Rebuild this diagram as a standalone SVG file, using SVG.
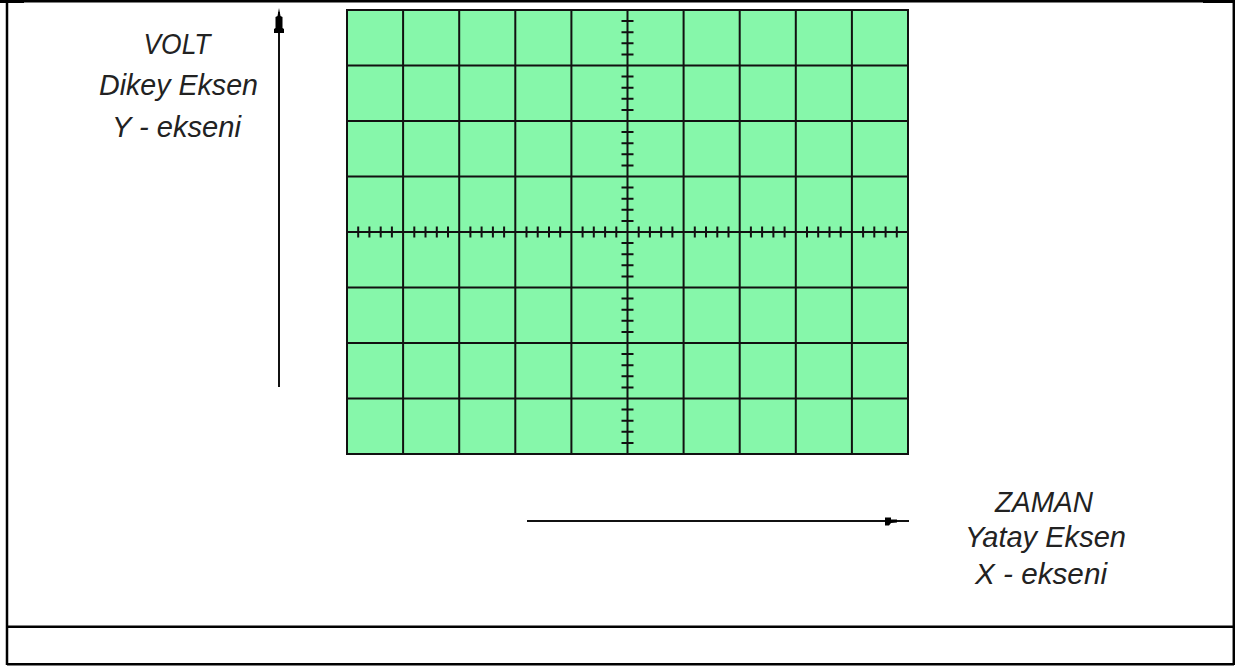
<svg xmlns="http://www.w3.org/2000/svg" width="1235" height="666" viewBox="0 0 1235 666">
<style>
.frame{fill:none;stroke:#000;stroke-width:2.5}
.grid{fill:none;stroke:#111;stroke-width:2}
.tick{fill:none;stroke:#111;stroke-width:2}
.axis{fill:none;stroke:#111;stroke-width:2}
.head{fill:#000}
.lbl{font-family:"Liberation Sans",Arial,sans-serif;font-style:italic;font-size:29px;fill:#222;text-anchor:middle}
</style>
<rect width="1235" height="666" fill="#fff"/>
<g id="frame">
<path class="frame" d="M0,1.2 H1235 M7,0 V665 M1233.8,0 V665 M7,664.2 H1234 M7,626.8 H1234"/>
<rect x="0" y="0" width="24" height="3" fill="#000"/>
<rect x="1203" y="0" width="32" height="3" fill="#000"/>
</g>
<g id="screen">
<rect x="347" y="10" width="561" height="444" fill="#86f7aa"/>
<path class="grid" d="M347,10 H908 V454 H347 Z M403.1,10 V454 M459.2,10 V454 M515.3,10 V454 M571.4,10 V454 M627.5,10 V454 M683.6,10 V454 M739.7,10 V454 M795.8,10 V454 M851.9,10 V454 M347,65.5 H908 M347,121 H908 M347,176.5 H908 M347,232 H908 M347,287.5 H908 M347,343 H908 M347,398.5 H908"/>
<path class="tick" d="M358.2,226.5V237.5M369.4,226.5V237.5M380.7,226.5V237.5M391.9,226.5V237.5M414.3,226.5V237.5M425.5,226.5V237.5M436.8,226.5V237.5M448,226.5V237.5M470.4,226.5V237.5M481.6,226.5V237.5M492.9,226.5V237.5M504.1,226.5V237.5M526.5,226.5V237.5M537.7,226.5V237.5M549,226.5V237.5M560.2,226.5V237.5M582.6,226.5V237.5M593.8,226.5V237.5M605.1,226.5V237.5M616.3,226.5V237.5M638.7,226.5V237.5M649.9,226.5V237.5M661.2,226.5V237.5M672.4,226.5V237.5M694.8,226.5V237.5M706,226.5V237.5M717.3,226.5V237.5M728.5,226.5V237.5M750.9,226.5V237.5M762.1,226.5V237.5M773.4,226.5V237.5M784.6,226.5V237.5M807,226.5V237.5M818.2,226.5V237.5M829.5,226.5V237.5M840.7,226.5V237.5M863.1,226.5V237.5M874.3,226.5V237.5M885.6,226.5V237.5M896.8,226.5V237.5"/>
<path class="tick" d="M621.5,21.1H633.5M621.5,32.2H633.5M621.5,43.3H633.5M621.5,54.4H633.5M621.5,76.6H633.5M621.5,87.7H633.5M621.5,98.8H633.5M621.5,109.9H633.5M621.5,132.1H633.5M621.5,143.2H633.5M621.5,154.3H633.5M621.5,165.4H633.5M621.5,187.6H633.5M621.5,198.7H633.5M621.5,209.8H633.5M621.5,220.9H633.5M621.5,243.1H633.5M621.5,254.2H633.5M621.5,265.3H633.5M621.5,276.4H633.5M621.5,298.6H633.5M621.5,309.7H633.5M621.5,320.8H633.5M621.5,331.9H633.5M621.5,354.1H633.5M621.5,365.2H633.5M621.5,376.3H633.5M621.5,387.4H633.5M621.5,409.6H633.5M621.5,420.7H633.5M621.5,431.8H633.5M621.5,442.9H633.5"/>
</g>
<g id="connectors">
<g id="y-axis">
<path class="axis" d="M279,12 V387"/>
<polygon class="head" points="279,8 280.5,16 282.5,17 282.5,28 284,29 284,33 274,33 274,29 275.5,28 275.5,17 277.5,16"/>
</g>
<g id="x-axis">
<path class="axis" d="M527,521 H909"/>
<polygon class="head" points="885,517.5 891,517.5 891,519.5 897,519.5 897,522.5 891,523 889,525.5 885,525.5"/>
</g>
</g>
<g id="label-y">
<text class="lbl" x="177" y="54" textLength="67" lengthAdjust="spacingAndGlyphs">VOLT</text>
<text class="lbl" x="178.5" y="95" textLength="159" lengthAdjust="spacingAndGlyphs">Dikey Eksen</text>
<text class="lbl" x="176.5" y="137" textLength="129" lengthAdjust="spacingAndGlyphs">Y - ekseni</text>
</g>
<g id="label-x">
<text class="lbl" x="1044" y="512" textLength="98" lengthAdjust="spacingAndGlyphs">ZAMAN</text>
<text class="lbl" x="1045.5" y="547" textLength="161" lengthAdjust="spacingAndGlyphs">Yatay Eksen</text>
<text class="lbl" x="1041" y="584" textLength="132" lengthAdjust="spacingAndGlyphs">X - ekseni</text>
</g>
</svg>
